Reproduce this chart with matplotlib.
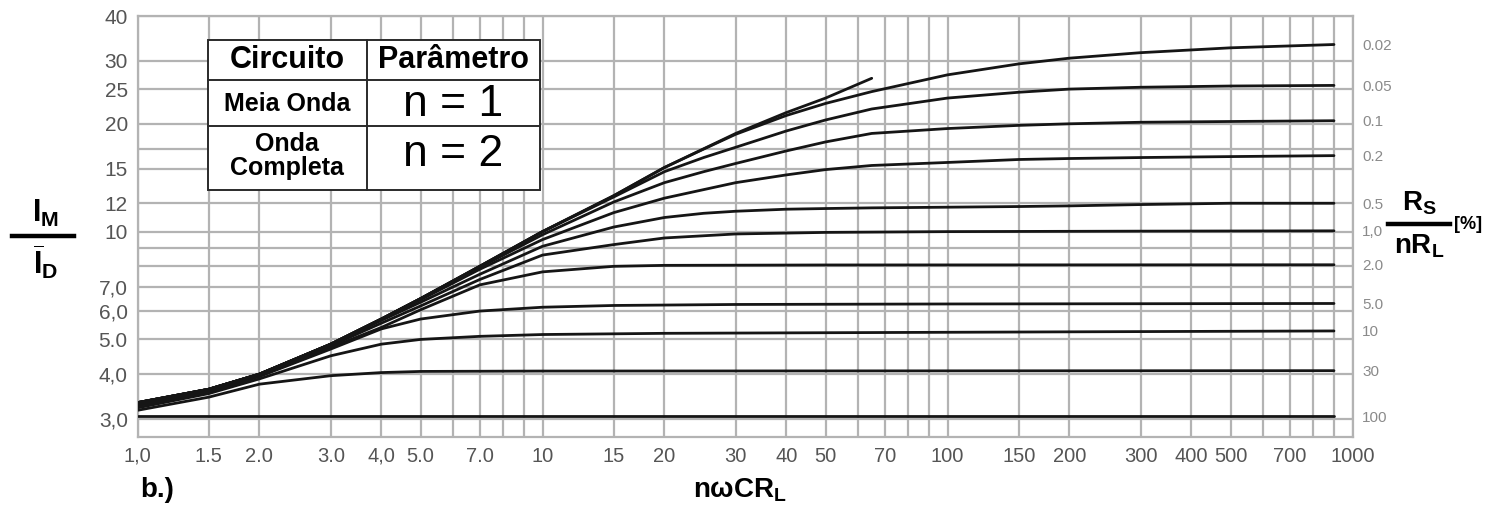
import matplotlib
matplotlib.use('Agg')
import matplotlib.pyplot as plt
from matplotlib.lines import Line2D
from matplotlib.patches import Rectangle
from matplotlib.ticker import NullFormatter

plt.rcParams['font.family'] = ['Liberation Sans', 'DejaVu Sans']
plt.rcParams['mathtext.fontset'] = 'custom'
plt.rcParams['mathtext.rm'] = 'Liberation Sans'
plt.rcParams['mathtext.bf'] = 'Liberation Sans:bold'
plt.rcParams['mathtext.it'] = 'Liberation Sans:italic'

# ---------------- data ----------------
x_ticks = [1, 1.5, 2, 3, 4, 5, 7, 10, 15, 20, 30, 40, 50, 70, 100, 150, 200, 300, 400, 500, 700, 1000]
x_tick_labels = ['1,0', '1.5', '2.0', '3.0', '4,0', '5.0', '7.0', '10', '15', '20', '30', '40', '50', '70',
                 '100', '150', '200', '300', '400', '500', '700', '1000']
x_grid = [1, 1.5, 2, 3, 4, 5, 6, 7, 8, 9, 10, 15, 20, 30, 40, 50, 60, 70, 80, 90,
          100, 150, 200, 300, 400, 500, 600, 700, 800, 900, 1000]
y_ticks = [3, 4, 5, 6, 7, 10, 12, 15, 20, 25, 30, 40]
y_tick_labels = ['3,0', '4,0', '5.0', '6,0', '7,0', '10', '12', '15', '20', '25', '30', '40']
y_grid = [3, 4, 5, 6, 7, 8, 9, 10, 12, 15, 17, 20, 25, 30, 40]

# envelope (upper limit curve, ends near 65)
env_x = [1, 1.5, 2, 3, 4, 5, 7, 10, 15, 20, 30, 40, 50, 65]
env_y = [3.33, 3.63, 4.0, 4.85, 5.7, 6.5, 8.0, 10.0, 12.6, 15.1, 18.8, 21.5, 23.6, 26.8]

# parameter curves Rs/nRL [%]
rs_labels = ['0.02', '0.05', '0.1', '0.2', '0.5', '1,0', '2.0', '5.0', '10', '30', '100']
xs_long = [1, 1.5, 2, 3, 4, 5, 7, 10, 15, 20, 25, 30, 40, 50, 65, 100, 150, 200, 300, 500, 900]
c002_y = [3.33, 3.63, 4.0, 4.85, 5.7, 6.5, 8.0, 10.0, 12.6, 15.1, 17.0, 18.7, 21.1, 22.8, 24.6, 27.4, 29.4, 30.5, 31.6, 32.6, 33.3]
c005_y = [3.33, 3.63, 4.0, 4.85, 5.7, 6.5, 8.0, 10.0, 12.5, 14.7, 16.1, 17.2, 19.1, 20.5, 22.0, 23.6, 24.5, 25.0, 25.3, 25.5, 25.6]
c01_y = [3.33, 3.63, 4.0, 4.85, 5.7, 6.5, 7.95, 9.8, 12.1, 13.7, 14.7, 15.5, 16.8, 17.8, 18.8, 19.4, 19.8, 20.0, 20.2, 20.3, 20.4]
c02_y = [3.33, 3.63, 4.0, 4.85, 5.7, 6.45, 7.85, 9.5, 11.3, 12.4, 13.1, 13.7, 14.4, 14.9, 15.3, 15.6, 15.9, 16.0, 16.1, 16.2, 16.3]
c05_y = [3.33, 3.63, 4.0, 4.83, 5.65, 6.35, 7.6, 9.1, 10.3, 10.95, 11.25, 11.4, 11.55, 11.6, 11.65, 11.7, 11.75, 11.8, 11.9, 12.0, 12.0]
c1_x = [1, 1.5, 2, 3, 4, 5, 7, 10, 15, 20, 30, 50, 100, 300, 900]
c1_y = [3.27, 3.58, 3.96, 4.8, 5.55, 6.2, 7.35, 8.6, 9.2, 9.6, 9.85, 9.95, 10.0, 10.03, 10.05]
c2_x = [1, 1.5, 2, 3, 4, 5, 7, 10, 15, 20, 50, 900]
c2_y = [3.27, 3.58, 3.95, 4.75, 5.4, 6.05, 7.1, 7.72, 8.0, 8.05, 8.07, 8.08]
c5_x = [1, 1.5, 2, 3, 4, 5, 7, 10, 15, 30, 100, 900]
c5_y = [3.27, 3.57, 3.94, 4.7, 5.35, 5.7, 6.0, 6.15, 6.22, 6.26, 6.28, 6.3]
c10_x = [1, 1.5, 2, 3, 4, 5, 7, 10, 20, 50, 200, 900]
c10_y = [3.22, 3.53, 3.88, 4.5, 4.85, 5.0, 5.1, 5.16, 5.2, 5.22, 5.25, 5.28]
c30_x = [1, 1.5, 2, 3, 4, 5, 10, 900]
c30_y = [3.17, 3.45, 3.75, 3.96, 4.04, 4.07, 4.08, 4.09]
c100_x = [1, 900]
c100_y = [3.05, 3.05]

curves = [(xs_long, c002_y), (xs_long, c005_y), (xs_long, c01_y), (xs_long, c02_y), (xs_long, c05_y),
          (c1_x, c1_y), (c2_x, c2_y), (c5_x, c5_y), (c10_x, c10_y), (c30_x, c30_y), (c100_x, c100_y)]

table_header = ['Circuito', 'Parâmetro']
table_rows = [('Meia Onda', 'n = 1'), ('Onda\nCompleta', 'n = 2')]

# ---------------- figure ----------------
W, H = 1503, 509
fig = plt.figure(figsize=(W / 100, H / 100), dpi=100)


def fx(px):
    return px / W


def fy(py):
    return 1 - py / H


ax_l, ax_r, ax_t, ax_b = 137.5, 1352.5, 16, 437
ax = fig.add_axes([fx(ax_l), fy(ax_b), (ax_r - ax_l) / W, (ax_b - ax_t) / H])
ax.set_xscale('log')
ax.set_yscale('log')
ax.set_xlim(1, 1000)
ax.set_ylim(2.67, 40)

grid_c = '#b3b3b3'
ax.set_xticks(x_ticks, x_tick_labels)
ax.set_xticks(x_grid, minor=True)
ax.set_yticks(y_ticks, y_tick_labels)
ax.set_yticks(y_grid, minor=True)
ax.xaxis.set_minor_formatter(NullFormatter())
ax.yaxis.set_minor_formatter(NullFormatter())
ax.grid(True, which='both', color=grid_c, lw=1.6)
ax.set_axisbelow(True)
ax.tick_params(which='both', length=0)
ax.tick_params(axis='x', pad=7, labelsize=14.5, labelcolor='#555555')
ax.tick_params(axis='y', pad=7, labelsize=15, labelcolor='#555555')
for s in ax.spines.values():
    s.set_color(grid_c)
    s.set_linewidth(1.6)

line_c = '#151515'
ax.plot(env_x, env_y, color=line_c, lw=2.0, solid_capstyle='round', zorder=3)
for cx, cy in curves:
    ax.plot(cx, cy, color=line_c, lw=2.0, solid_capstyle='round', zorder=3)

# right axis with parameter labels
ax2 = ax.twinx()
ax2.set_yscale('log')
ax2.set_ylim(ax.get_ylim())
ax2.set_yticks([c[1][-1] for c in curves], rs_labels)
ax2.yaxis.set_minor_formatter(NullFormatter())
ax2.tick_params(which='minor', length=0)
ax2.tick_params(axis='y', length=0, pad=7, labelsize=11, labelcolor='#8a8a8a')
for s in ax2.spines.values():
    s.set_visible(False)

# ---------------- table ----------------
tl, tr, tt, tb = 207.7, 540, 39.5, 190
tc, tr1, tr2 = 366.5, 80.3, 126
edge = '#2a2a2a'
fig.add_artist(Rectangle((fx(tl), fy(tb)), (tr - tl) / W, (tb - tt) / H, transform=fig.transFigure,
                         facecolor='white', edgecolor=edge, lw=1.4, zorder=5))
fig.add_artist(Line2D([fx(tc), fx(tc)], [fy(tt), fy(tb)], color=edge, lw=1.4, zorder=6))
for yy in (tr1, tr2):
    fig.add_artist(Line2D([fx(tl), fx(tr)], [fy(yy), fy(yy)], color=edge, lw=1.4, zorder=6))

c1x, c2x = (tl + tc) / 2, (tc + tr) / 2
fig.text(fx(c1x), fy(60), table_header[0], ha='center', va='center', fontsize=22, fontweight='bold', zorder=7)
fig.text(fx(c2x), fy(60), table_header[1], ha='center', va='center', fontsize=22, fontweight='bold', zorder=7)
fig.text(fx(c1x), fy(104), table_rows[0][0], ha='center', va='center', fontsize=18, fontweight='bold', zorder=7)
fig.text(fx(c1x), fy(156), table_rows[1][0], ha='center', va='center', fontsize=18, fontweight='bold',
         linespacing=0.95, zorder=7)
fig.text(fx(c2x), fy(104), table_rows[0][1], ha='center', va='center', fontsize=32, zorder=7)
fig.text(fx(c2x), fy(154), table_rows[1][1], ha='center', va='center', fontsize=32, zorder=7)

# ---------------- axis labels ----------------
fig.text(fx(46), fy(213), r'$\mathbf{I_M}$', ha='center', va='center', fontsize=22)
fig.add_artist(Line2D([fx(12), fx(74)], [fy(236), fy(236)], color='black', lw=3.2))
fig.text(fx(46), fy(262), r'$\overline{\mathbf{I}}_\mathbf{D}$', ha='center', va='center', fontsize=22)

fig.text(fx(1419), fy(203), r'$\mathbf{R_S}$', ha='center', va='center', fontsize=20)
fig.add_artist(Line2D([fx(1388), fx(1450)], [fy(224), fy(224)], color='black', lw=3.2))
fig.text(fx(1419), fy(246), r'$\mathbf{nR_L}$', ha='center', va='center', fontsize=20)
fig.text(fx(1454), fy(225), '[%]', ha='left', va='center', fontsize=13, fontweight='bold')

fig.text(fx(740), fy(490), r'$\mathbf{n\omega CR_L}$', ha='center', va='center', fontsize=20)
fig.text(fx(140), fy(490), 'b.)', ha='left', va='center', fontsize=20, fontweight='bold')

fig.savefig('out.png', dpi=100)
